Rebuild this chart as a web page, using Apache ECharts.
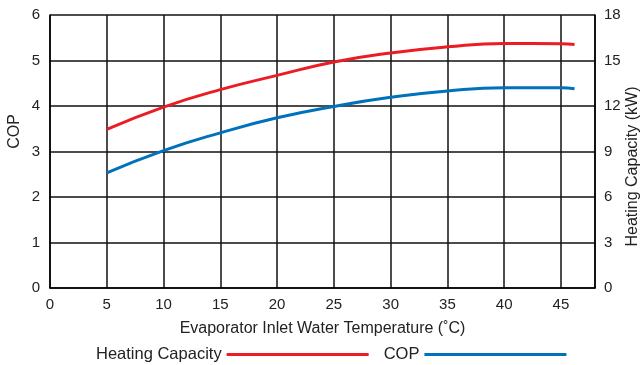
<!DOCTYPE html>
<html>
<head>
<meta charset="utf-8">
<script src="https://cdn.jsdelivr.net/npm/echarts@6/dist/echarts.min.js"></script>
<style>html,body{margin:0;padding:0;background:#fff}#c{width:642px;height:365px}</style>
</head>
<body>
<div id="c"></div>
<script>
var temps = [5, 10, 15, 20, 25, 30, 35, 40, 45, 46.2];
var copValues = [2.53, 3.02, 3.41, 3.74, 3.99, 4.19, 4.33, 4.40, 4.40, 4.38];
var capacityValues = [10.46, 11.93, 13.08, 14.02, 14.9, 15.5, 15.9, 16.12, 16.1, 16.05];
var xTitle = 'Evaporator Inlet Water Temperature (\u02daC)';
var leftTitle = 'COP';
var rightTitle = 'Heating Capacity (kW)';

function pairs(xs, ys) { return xs.map(function (x, i) { return [x, ys[i]]; }); }

var font = 'Liberation Sans, Arial, Helvetica, sans-serif';
var chart = echarts.init(document.getElementById('c'), null, { renderer: 'canvas' });
chart.setOption({
  animation: false,
  backgroundColor: '#fff',
  textStyle: { fontFamily: font },
  grid: { left: 50, right: 47, top: 15, bottom: 77, containLabel: false, outerBoundsMode: 'none' },
  legend: {
    left: 91, top: 341, align: 'right', icon: 'rect',
    itemWidth: 142, itemHeight: 3, itemGap: 15,
    textStyle: { fontSize: 16.5, color: '#222', fontFamily: font },
    data: ['Heating Capacity', 'COP']
  },
  xAxis: {
    type: 'value', min: 0, max: 48, interval: 5,
    name: xTitle, nameLocation: 'middle', nameGap: 33, nameMoveOverlap: false,
    nameTextStyle: { fontSize: 16, color: '#222', fontFamily: font },
    axisLine: { show: true, lineStyle: { color: '#000', width: 1.5 } },
    axisTick: { show: false },
    axisLabel: { fontSize: 15, color: '#222', margin: 9, showMaxLabel: false },
    splitLine: { show: true, lineStyle: { color: '#111', width: 1.5 } }
  },
  yAxis: [{
    type: 'value', min: 0, max: 6, interval: 1, position: 'left',
    name: leftTitle, nameLocation: 'middle', nameGap: 27, nameRotate: 90, nameMoveOverlap: false,
    nameTextStyle: { fontSize: 16, color: '#222', fontFamily: font, padding: [0, 0, 0, 40] },
    axisLine: { show: true, lineStyle: { color: '#000', width: 1.5 } },
    axisTick: { show: false },
    axisLabel: { fontSize: 15, color: '#222', margin: 10 },
    splitLine: { show: true, lineStyle: { color: '#111', width: 1.5 } }
  }, {
    type: 'value', min: 0, max: 18, interval: 3, position: 'right',
    name: rightTitle, nameLocation: 'middle', nameGap: 30, nameRotate: 90, nameMoveOverlap: false,
    nameTextStyle: { fontSize: 16, color: '#222', fontFamily: font, padding: [0, 30, 0, 0] },
    axisLine: { show: true, lineStyle: { color: '#000', width: 1.5 } },
    axisTick: { show: false },
    axisLabel: { fontSize: 15, color: '#222', margin: 9 },
    splitLine: { show: false }
  }],
  series: [{
    name: 'Heating Capacity', type: 'line', yAxisIndex: 1,
    data: pairs(temps, capacityValues), smooth: 0.5, showSymbol: false,
    lineStyle: { color: '#ED1C24', width: 3 }, itemStyle: { color: '#ED1C24' }
  }, {
    name: 'COP', type: 'line', yAxisIndex: 0,
    data: pairs(temps, copValues), smooth: 0.5, showSymbol: false,
    lineStyle: { color: '#0072BC', width: 3 }, itemStyle: { color: '#0072BC' }
  }]
});
</script>
</body>
</html>
